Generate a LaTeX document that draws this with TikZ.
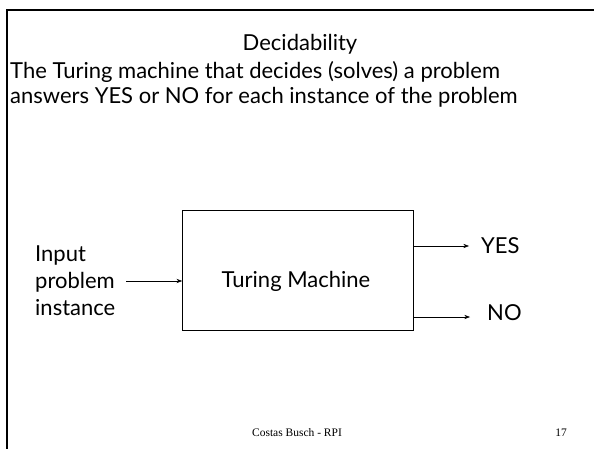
\documentclass[tikz,border=0pt]{standalone}
\usepackage{fontspec}
\setmainfont{Lato}
\newfontfamily\footfont{Liberation Serif}
\usetikzlibrary{
  positioning
  , arrows.meta
}

\begin{document}
\begin{tikzpicture}[x=1pt, y=-1pt]
      \def\MainSize {\fontsize{22}{25}\selectfont};
      \def\FootSize {\footfont\fontsize{11.5}{14}\selectfont};
      \useasboundingbox (0,0) rectangle (594,449);

      % slide frame
      \draw[line width=2.5pt] (7,449) -- (7,10) -- (594,10);

      \node [font=\MainSize] (Title) at (300,44) {Decidability};
      \node [font=\MainSize,
        anchor=north west,
        align=left,
        inner sep=0pt,
      ] (Intro) at (10,61) {The Turing machine that decides (solves) a problem\\
        answers YES or NO for each instance of the problem};

      % machine
      \node [draw,
        line width=0.6pt,
        minimum width=231,
        minimum height=120,
      ] (TM) at (298,270){};
      \node [font=\MainSize] (TMText) at (296,281) {Turing Machine};

      \node [font=\MainSize,
        anchor=west,
        align=left,
        inner sep=0pt,
      ] (Inpt) at (35,281) {Input\\[2pt]problem\\[2pt]instance};
      \coordinate (InBeg) at (126,281);
      \draw[-Stealth, line width=0.6pt]
      (InBeg) -- (InBeg -| TM.west);

      \node [font=\MainSize, anchor=west, inner sep=0pt] (Yes) at (481,246) {YES};
      \node [font=\MainSize, anchor=west, inner sep=0pt] (No) at (487,313) {NO};
      \draw[-Stealth, line width=0.6pt]
      (Yes.west -| TM.east) -- ([xshift=-12pt]Yes.west);
      \draw[-Stealth, line width=0.6pt]
      ([yshift=-4pt]No.west -| TM.east) -- ([shift={(-17pt,-4pt)}]No.west);

      % footer
      \node [font=\FootSize, anchor=base] (Foot) at (297,436) {Costas Busch - RPI};
      \node [font=\FootSize, anchor=base] (PgNum) at (561,436) {17};
\end{tikzpicture}
\end{document}
